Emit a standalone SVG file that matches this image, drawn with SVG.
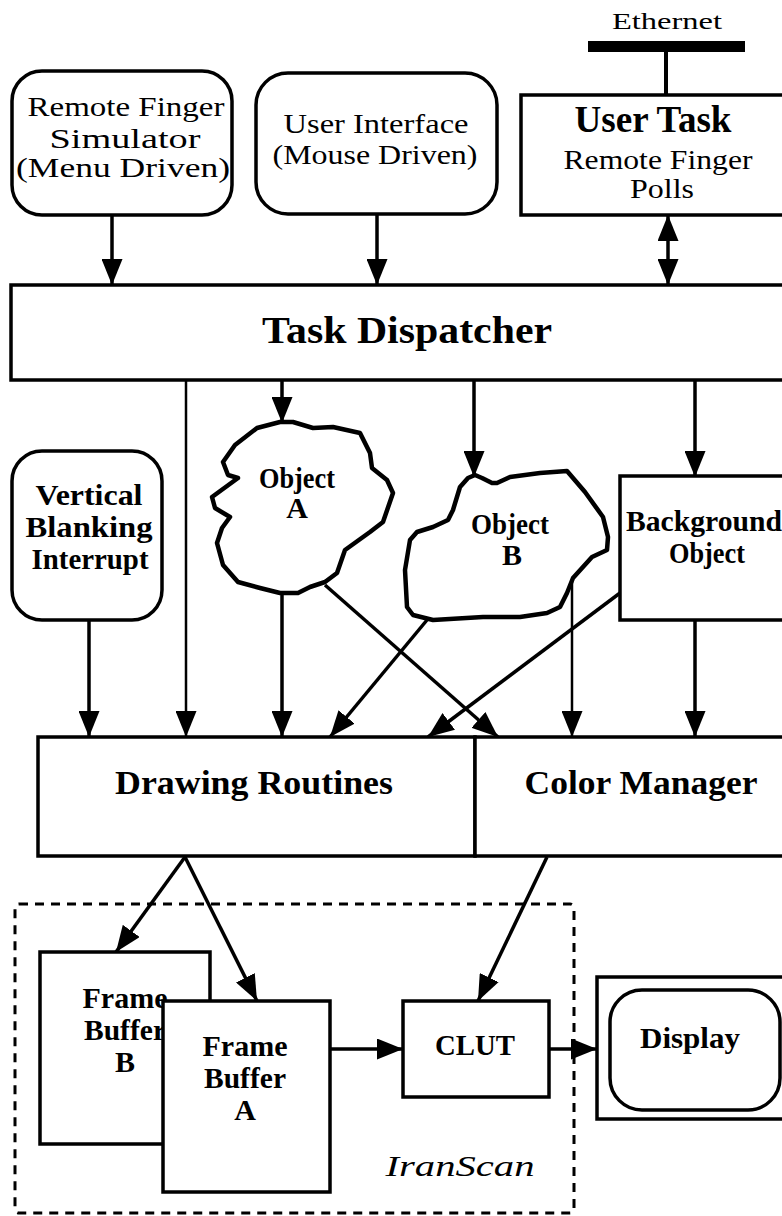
<svg xmlns="http://www.w3.org/2000/svg" width="782" height="1216" viewBox="0 0 782 1216">
<defs>
<marker id="ah" markerUnits="userSpaceOnUse" markerWidth="26" markerHeight="21" refX="26" refY="10.5" orient="auto-start-reverse" viewBox="0 0 26 21">
<path d="M0,0 L26,10.5 L0,21 z" fill="#000"/>
</marker>
<style>
.bx{fill:#fff;stroke:#000;stroke-width:3.5}
.cl{fill:#fff;stroke:#000;stroke-width:4.5;stroke-linejoin:round}
.c{stroke:#000;stroke-width:3.5;fill:none;marker-end:url(#ah)}
.ct{stroke:#000;stroke-width:2.5;fill:none;marker-end:url(#ah)}
.t{font-family:"Liberation Serif","Times New Roman",serif;fill:#000;text-anchor:middle}
.r{font-size:27px}
.b{font-size:30px;font-weight:bold}
.bl{font-size:38px;font-weight:bold}
</style>
</defs>
<rect width="782" height="1216" fill="#fff"/>

<g id="connectors">
<line class="c" x1="112" y1="215" x2="112" y2="285"/>
<line class="c" x1="377" y1="214" x2="377" y2="285"/>
<line class="c" x1="668" y1="215" x2="668" y2="285" marker-start="url(#ah)"/>
<line class="ct" x1="186" y1="380" x2="186" y2="737"/>
<line class="c" x1="282" y1="380" x2="282" y2="423"/>
<line class="c" x1="474" y1="380" x2="474" y2="477"/>
<line class="c" x1="695" y1="380" x2="695" y2="477"/>
<line class="c" x1="89" y1="620" x2="89" y2="737"/>
<line class="c" x1="282" y1="593" x2="282" y2="737"/>
<line class="c" x1="325" y1="585" x2="498" y2="737"/>
<line class="c" x1="427" y1="620" x2="330" y2="737"/>
<line class="c" x1="620" y1="593" x2="428" y2="737"/>
<line class="ct" x1="572" y1="582" x2="572" y2="737"/>
<line class="c" x1="695" y1="620" x2="695" y2="737"/>
<line class="c" x1="185" y1="857" x2="116" y2="952"/>
<line class="c" x1="185" y1="857" x2="257" y2="1001"/>
<line class="c" x1="547" y1="857" x2="478" y2="1001"/>
<line class="c" x1="330" y1="1049" x2="403" y2="1049"/>
<line class="c" x1="549" y1="1049" x2="597" y2="1049"/>
</g>

<g id="ethernet">
<rect x="588" y="41" width="157" height="11" fill="#000"/>
<line x1="666" y1="52" x2="666" y2="95" stroke="#000" stroke-width="4"/>
<text class="t" x="667" y="29" font-size="24" textLength="110" lengthAdjust="spacingAndGlyphs">Ethernet</text>
</g>

<g id="remote-finger-simulator">
<rect class="bx" x="12" y="71" width="220" height="144" rx="30"/>
<text class="t r" x="126" y="116" textLength="197" lengthAdjust="spacingAndGlyphs">Remote Finger</text>
<text class="t r" x="125" y="148" textLength="151" lengthAdjust="spacingAndGlyphs">Simulator</text>
<text class="t r" x="123" y="177" textLength="214" lengthAdjust="spacingAndGlyphs">(Menu Driven)</text>
</g>

<g id="user-interface">
<rect class="bx" x="256" y="73" width="241" height="141" rx="32"/>
<text class="t r" x="376" y="133" textLength="185" lengthAdjust="spacingAndGlyphs">User Interface</text>
<text class="t r" x="375" y="164" textLength="205" lengthAdjust="spacingAndGlyphs">(Mouse Driven)</text>
</g>

<g id="user-task">
<rect class="bx" x="521" y="95" width="300" height="120"/>
<text class="t bl" x="653" y="132" textLength="157" lengthAdjust="spacingAndGlyphs">User Task</text>
<text class="t r" x="658" y="169" textLength="189" lengthAdjust="spacingAndGlyphs">Remote Finger</text>
<text class="t r" x="662" y="198" textLength="64" lengthAdjust="spacingAndGlyphs">Polls</text>
</g>

<g id="task-dispatcher">
<rect class="bx" x="11" y="285" width="800" height="95"/>
<text class="t bl" x="407" y="343" textLength="290" lengthAdjust="spacingAndGlyphs">Task Dispatcher</text>
</g>

<g id="vertical-blanking-interrupt">
<rect class="bx" x="12" y="451" width="150" height="169" rx="30"/>
<text class="t b" x="89" y="505" textLength="107" lengthAdjust="spacingAndGlyphs">Vertical</text>
<text class="t b" x="89" y="537" textLength="127" lengthAdjust="spacingAndGlyphs">Blanking</text>
<text class="t b" x="90" y="569" textLength="117" lengthAdjust="spacingAndGlyphs">Interrupt</text>
</g>

<g id="object-a">
<path class="cl" d="M280,422 L257,428 L235,445 L223,462 L228,475 L238,478 L212,497 L215,508 L230,517 L222,528 L217,543 L223,565 L238,582 L260,588 L280,593 L298,593 L310,587 L325,582 L337,573 L345,550 L370,532 L383,522 L393,493 L387,480 L372,468 L370,453 L360,433 L333,427 L313,428 L293,422 Z"/>
<text class="t b" x="297" y="488" textLength="76" lengthAdjust="spacingAndGlyphs">Object</text>
<text class="t b" x="297" y="518">A</text>
</g>

<g id="object-b">
<path class="cl" d="M475,475 L482,478 L492,483 L497,483 L510,477 L540,473 L567,471 L585,492 L603,517 L608,537 L607,550 L592,557 L573,578 L567,593 L560,607 L547,613 L520,617 L483,617 L433,620 L413,615 L407,607 L405,570 L410,540 L417,532 L433,527 L448,520 L453,510 L460,487 L468,478 Z"/>
<text class="t b" x="510" y="534" textLength="78" lengthAdjust="spacingAndGlyphs">Object</text>
<text class="t b" x="512" y="565">B</text>
</g>

<g id="background-object">
<rect class="bx" x="620" y="476" width="200" height="144"/>
<text class="t b" x="704" y="531" textLength="156" lengthAdjust="spacingAndGlyphs">Background</text>
<text class="t b" x="707" y="563" textLength="76" lengthAdjust="spacingAndGlyphs">Object</text>
</g>

<g id="drawing-routines">
<rect class="bx" x="38" y="737" width="437" height="119"/>
<text class="t" x="254" y="794" font-size="33" font-weight="bold" textLength="278" lengthAdjust="spacingAndGlyphs">Drawing Routines</text>
</g>

<g id="color-manager">
<rect class="bx" x="475" y="737" width="340" height="119"/>
<text class="t" x="641" y="794" font-size="33" font-weight="bold" textLength="233" lengthAdjust="spacingAndGlyphs">Color Manager</text>
</g>

<g id="iranscan">
<rect x="15" y="904" width="559" height="309" rx="4" fill="none" stroke="#000" stroke-width="3" stroke-dasharray="9 7"/>
<text class="t" x="460" y="1176" font-size="30" font-style="italic" textLength="149" lengthAdjust="spacingAndGlyphs">IranScan</text>
</g>

<g id="frame-buffer-b">
<rect class="bx" x="40" y="952" width="170" height="192"/>
<text class="t b" x="125" y="1008" textLength="85" lengthAdjust="spacingAndGlyphs">Frame</text>
<text class="t b" x="125" y="1040" textLength="82" lengthAdjust="spacingAndGlyphs">Buffer</text>
<text class="t b" x="125" y="1072">B</text>
</g>

<g id="frame-buffer-a">
<rect class="bx" x="163" y="1001" width="167" height="191"/>
<text class="t b" x="245" y="1056" textLength="85" lengthAdjust="spacingAndGlyphs">Frame</text>
<text class="t b" x="245" y="1088" textLength="82" lengthAdjust="spacingAndGlyphs">Buffer</text>
<text class="t b" x="245" y="1120">A</text>
</g>

<g id="clut">
<rect class="bx" x="403" y="1001" width="146" height="96"/>
<text class="t b" x="475" y="1055" textLength="80" lengthAdjust="spacingAndGlyphs">CLUT</text>
</g>

<g id="display">
<rect class="bx" x="597" y="977" width="220" height="142"/>
<rect class="bx" x="610" y="990" width="170" height="120" rx="32"/>
<text class="t b" x="690" y="1048" textLength="100" lengthAdjust="spacingAndGlyphs">Display</text>
</g>
</svg>
